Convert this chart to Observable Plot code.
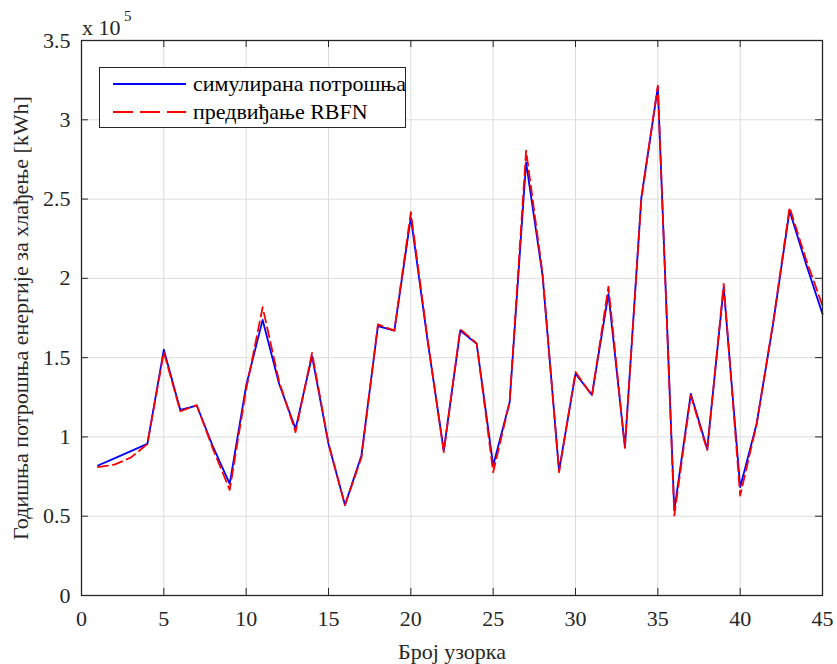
<!DOCTYPE html>
<html>
<head>
<meta charset="utf-8">
<script src="https://cdn.jsdelivr.net/npm/d3@7"></script>
<script src="https://cdn.jsdelivr.net/npm/@observablehq/plot@0.6"></script>
<style>
  body { margin: 0; background: #fff; }
  #wrap { position: relative; width: 837px; height: 664px; font-family: "Liberation Serif", "Times New Roman", serif; }
  #chart svg text { font-family: "Liberation Serif", "Times New Roman", serif !important; }
  .abs { position: absolute; line-height: 1; white-space: nowrap; color: #262626; }
  #legend { position: absolute; left: 99px; top: 67px; width: 307px; height: 61px; border: 1px solid #262626; background: #fff; box-sizing: border-box; }
  .row { position: absolute; left: 0; height: 26px; display: flex; align-items: center; font-size: 22px; color: #000; white-space: nowrap; }
  .row svg { margin-left: 13px; margin-right: 7px; }
</style>
</head>
<body>
<div id="wrap">
  <div id="chart"></div>
  <span class="abs" style="left:82px; top:17px; font-size:22px;">x 10</span>
  <span class="abs" style="left:124px; top:9px; font-size:15px;">5</span>
  <div id="legend">
    <div class="row" style="top:3px"><svg width="73" height="4"><line x1="0" x2="73" y1="2" y2="2" stroke="#0000ff" stroke-width="1.8"/></svg>симулирана потрошња</div>
    <div class="row" style="top:31px"><svg width="73" height="4"><line x1="0" x2="73" y1="2" y2="2" stroke="#ff0000" stroke-width="1.8" stroke-dasharray="20,7"/></svg>предвиђање RBFN</div>
  </div>
</div>
<script>
const sample = d3.range(1, 46);
// Annual cooling energy consumption [kWh]
const simulated = [82000, 86500, 91000, 95600, 155000, 117000, 119800, 93500, 70400, 132400,
  173800, 133500, 105100, 151000, 95600, 57000, 88300, 169800, 167100, 238500,
  162000, 91400, 167100, 158700, 82000, 121900, 273200, 201800, 78800, 139800,
  126500, 190200, 93500, 251100, 320500, 53600, 127200, 92500, 194400, 68300,
  108300, 171300, 242700, 209100, 177600];
const predicted = [81000, 82500, 87000, 95500, 153400, 116200, 120000, 92000, 66600, 130000,
  181800, 135000, 103000, 153000, 96000, 57000, 87000, 171000, 167000, 241700,
  163000, 90400, 168000, 159000, 77700, 122000, 280600, 203000, 77700, 141000,
  126000, 194800, 93000, 250000, 321600, 50400, 126100, 91400, 196500, 63000,
  108000, 172000, 244800, 212000, 182800];
const xTicks = d3.range(0, 46, 5);
const yTicks = d3.range(0, 3.51, 0.5);

const data = sample.map((s, i) => ({s, sim: simulated[i] / 1e5, pred: predicted[i] / 1e5}));

const serif = "'Liberation Serif', 'Times New Roman', serif";
const frameColor = "#262626";
const chart = Plot.plot({
  width: 837,
  height: 664,
  marginLeft: 81,
  marginRight: 15,
  marginTop: 40,
  marginBottom: 69,
  style: {fontFamily: serif, fontSize: "22px", color: frameColor, background: "#fff"},
  x: {domain: [0, 45]},
  y: {domain: [0, 3.5]},
  marks: [
    Plot.gridX(xTicks, {stroke: "#dcdcdc", strokeOpacity: 1, strokeWidth: 1}),
    Plot.gridY(yTicks, {stroke: "#dcdcdc", strokeOpacity: 1, strokeWidth: 1}),
    Plot.line(data, {x: "s", y: "sim", stroke: "#0000ff", strokeWidth: 1.8}),
    Plot.line(data, {x: "s", y: "pred", stroke: "#ff0000", strokeWidth: 1.8, strokeDasharray: "10,5"}),
    // inward ticks (MATLAB style) on all four sides
    Plot.ruleX(xTicks, {x: d => d, y1: 0, y2: 0.045, stroke: frameColor, strokeWidth: 1}),
    Plot.ruleX(xTicks, {x: d => d, y1: 3.5, y2: 3.455, stroke: frameColor, strokeWidth: 1}),
    Plot.ruleY(yTicks, {y: d => d, x1: 0, x2: 0.42, stroke: frameColor, strokeWidth: 1}),
    Plot.ruleY(yTicks, {y: d => d, x1: 45, x2: 44.58, stroke: frameColor, strokeWidth: 1}),
    Plot.frame({stroke: frameColor, strokeWidth: 1.3}),
    Plot.axisX(xTicks, {tickSize: 0, tickPadding: 15, tickFormat: d => String(d), fontSize: 22, fontFamily: serif, label: "Број узорка", labelAnchor: "center", labelArrow: "none", labelOffset: 63}),
    Plot.axisY(yTicks, {tickSize: 0, tickPadding: 11, tickFormat: d => String(d), fontSize: 22, fontFamily: serif, label: "Годишња потрошња енергије за хлађење [kWh]", labelAnchor: "center", labelArrow: "none", labelOffset: 69})
  ]
});
d3.select(chart).selectAll("text").style("font-family", serif);
document.getElementById("chart").appendChild(chart);
</script>
</body>
</html>
